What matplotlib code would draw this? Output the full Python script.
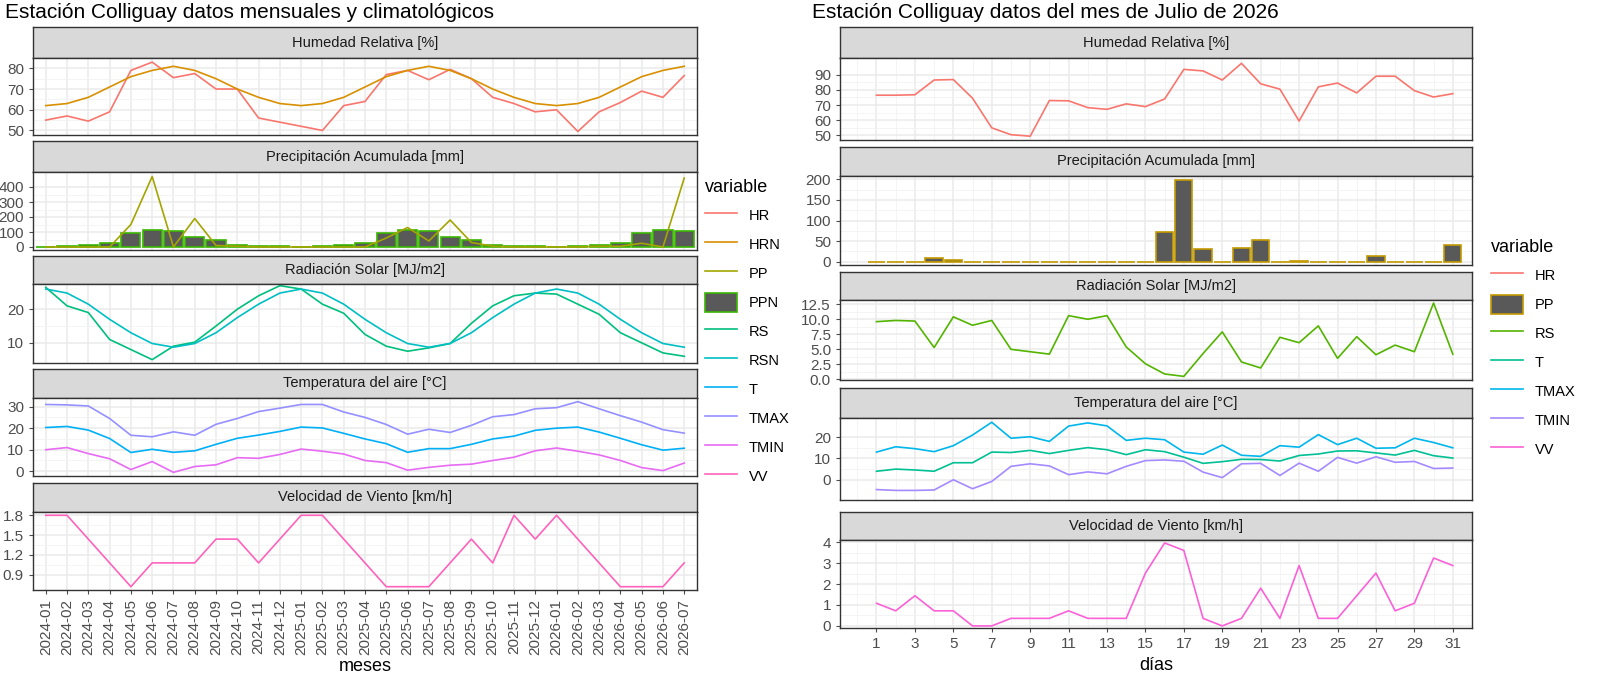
import matplotlib
matplotlib.use("Agg")
import matplotlib.pyplot as plt
from matplotlib.lines import Line2D
from matplotlib.patches import Patch
import numpy as np

plt.rcParams['font.family'] = ['Liberation Sans', 'DejaVu Sans']

months = ["2024-01","2024-02","2024-03","2024-04","2024-05","2024-06","2024-07","2024-08","2024-09","2024-10","2024-11","2024-12",
          "2025-01","2025-02","2025-03","2025-04","2025-05","2025-06","2025-07","2025-08","2025-09","2025-10","2025-11","2025-12",
          "2026-01","2026-02","2026-03","2026-04","2026-05","2026-06","2026-07"]
HR_m = [55,57,54.5,59,79,83,75.5,77.5,70,70,56,54,52,50,62,64,77,79,74.5,79.5,75,66,63,59,60,49.5,59,63.5,69,66,76.5]
HRN_m = [62,63,66,71,76,79,81,79,75,70,66,63,62,63,66,71,76,79,81,79,75,70,66,63,62,63,66,71,76,79,81]
PP_m = [0,0,0,0,150,470,0,190,10,5,0,0,0,0,0,0,60,130,40,180,30,5,0,0,0,0,5,5,25,0,460]
PPN_m = [0,5,15,25,95,115,105,65,45,15,10,5,0,5,15,25,95,115,105,65,45,15,10,5,0,5,15,25,95,115,105]
RS_m = [26.5,21,19,11,8,5,9,10.2,15,20,24,27,26,21.5,18.8,12.5,9,7.5,8.5,9.8,15.8,21,24,24.8,24.5,21.5,18.5,13,10,7,6]
RSN_m = [26,24.8,21.5,17,13,9.8,8.7,9.8,13,17.5,21.5,24.8,26,24.8,21.5,17,13,9.8,8.7,9.8,13,17.5,21.5,24.8,26,24.8,21.5,17,13,9.8,8.7]
TMAX_m = [31,30.8,30.3,24.5,16.7,16,18.3,16.7,21.8,24.5,27.7,29.3,31,31,27.5,25,21.7,17.2,19.5,18,21.3,25.3,26.3,29,29.5,32.3,29,25.8,22.8,19.3,17.7]
T_m = [20.3,20.8,19.1,15.2,8.7,10.2,8.8,9.5,12.5,15.3,16.8,18.5,20.5,20.1,17.6,15,12.8,8.8,10.5,10.5,12.5,15,16.3,19,20,20.5,18.2,15.3,12.3,9.8,10.7]
TMIN_m = [10,11,8.2,5.8,0.8,4.5,-0.5,2.2,3,6.3,6,7.8,10.3,9.3,8,5,4,0.5,1.8,2.8,3.3,5,6.5,9.5,10.8,9.3,7.6,5,1.7,0.3,3.8]
VV_m = [1.8,1.8,1.44,1.08,0.72,1.08,1.08,1.08,1.44,1.44,1.08,1.44,1.8,1.8,1.44,1.08,0.72,0.72,0.72,1.08,1.44,1.08,1.8,1.44,1.8,1.44,1.08,0.72,0.72,0.72,1.08]

days = list(range(1, 32))
HR_d = [76.5,76.5,76.8,86.5,86.8,74.5,55,50.5,49.5,73,72.8,68.3,67.2,70.8,69,74,93.5,92.5,86.5,97.5,84,80.5,59.5,82,84.5,78,89,89,79.5,75.3,77.5]
PP_d = [0,0,0,10,4,0,0,0,0,0,0,0,0,0,0,73,198,30,0,33,52,0,2,0,0,0,15,0,0,0,40]
RS_d = [9.6,9.8,9.7,5.3,10.4,9,9.8,5,4.6,4.2,10.6,10,10.6,5.4,2.6,0.9,0.5,4.3,7.9,2.9,1.9,7,6.1,8.9,3.5,7.1,4.1,5.7,4.6,12.7,4.2]
TMAX_d = [13,15.5,14.6,13.2,16,21,27,19.5,20.2,18,25.2,26.7,25.3,18.5,19.5,18.8,13,12,16.3,11.5,11,16,15.3,21.2,16.5,19.5,14.8,15,19.5,17.5,15]
T_d = [4,5,4.6,4,8,8,13,12.8,13.8,12.3,13.8,15.1,14.1,11.8,14.1,13.2,10.6,7.7,8.5,9.6,9.5,8.8,11.4,12.1,13.5,13.6,12.6,11.6,13.8,11.3,10.2]
TMIN_d = [-4.6,-5,-5,-4.8,0,-4.2,-0.8,6.3,7.5,6.5,2.4,3.7,2.8,6.3,9,9.3,8.7,3.6,1,7.5,7.7,2,7.8,4,10.5,7.8,10.8,8.2,8.6,5.3,5.5]
VV_d = [1.08,0.72,1.44,0.72,0.72,0,0,0.36,0.36,0.36,0.72,0.36,0.36,0.36,2.52,3.96,3.6,0.36,0,0.36,1.8,0.36,2.88,0.36,0.36,1.44,2.52,0.72,1.08,3.24,2.88]

titles = ["Humedad Relativa [%]", "Precipitación Acumulada [mm]", "Radiación Solar [MJ/m2]",
          "Temperatura del aire [°C]", "Velocidad de Viento [km/h]"]

cL = dict(HR="#F8766D", HRN="#D89000", PP="#A3A500", PPN="#39B600", RS="#00BF7D",
          RSN="#00BFC4", T="#00B0F6", TMAX="#9590FF", TMIN="#E76BF3", VV="#FF62BC")
cR = dict(HR="#F8766D", PP="#C49A00", RS="#53B400", T="#00C094", TMAX="#00B6EB",
          TMIN="#A58AFF", VV="#FB61D7")

W, H = 1600, 676
fig = plt.figure(figsize=(16, 6.76), dpi=100)
TICK = 11

def px_axes(x0, y0, x1, y1):
    return fig.add_axes([x0 / W, 1 - y1 / H, (x1 - x0) / W, (y1 - y0) / H])

def strip(x0, y0, x1, y1, text):
    a = px_axes(x0, y0, x1, y1)
    a.set_xticks([]); a.set_yticks([])
    a.set_facecolor("#D9D9D9")
    for s in a.spines.values():
        s.set_color("#333333"); s.set_linewidth(1.0)
    a.text(0.5, 0.5, text, ha="center", va="center", fontsize=10.5, color="#1A1A1A", transform=a.transAxes)

def style(a, xlim, yticks, ylim, minor_x, minor_y):
    a.set_xlim(*xlim); a.set_ylim(*ylim)
    a.set_yticks(yticks)
    a.set_yticks(minor_y, minor=True)
    a.set_xticks(minor_x, minor=True)
    a.grid(True, which="major", color="#EBEBEB", linewidth=1.1)
    a.grid(True, which="minor", color="#F2F2F2", linewidth=0.6)
    a.set_axisbelow(True)
    for s in a.spines.values():
        s.set_color("#333333"); s.set_linewidth(1.0)
    a.tick_params(axis="both", which="major", labelsize=TICK, colors="#4D4D4D", length=3, width=0.8)
    a.tick_params(axis="both", which="minor", length=0)

def mids(t):
    return [(t[i] + t[i+1]) / 2 for i in range(len(t) - 1)]

# ---------------- left ----------------
Lx0, Lx1 = 33, 697
lrows = [(27, 58, 135), (141, 172, 250), (256, 284, 363), (369, 398, 476), (483, 512, 590)]
xm = np.arange(len(months))
xlimL = (-0.6, len(months) - 0.4)
lspec = [
    ([50, 60, 70, 80], (47.8, 85)),
    ([0, 100, 200, 300, 400], (-20, 500)),
    ([10, 20], (4, 27.5)),
    ([0, 10, 20, 30], (-2.2, 34)),
    ([0.9, 1.2, 1.5, 1.8], (0.67, 1.85)),
]
for i, (sy0, sy1, py1) in enumerate(lrows):
    strip(Lx0, sy0, Lx1, sy1, titles[i])
    a = px_axes(Lx0, sy1, Lx1, py1)
    yt, yl = lspec[i]
    style(a, xlimL, yt, yl, [], mids(yt))
    a.set_xticks(xm)
    if i == 0:
        a.plot(xm, HR_m, color=cL["HR"], lw=1.2)
        a.plot(xm, HRN_m, color=cL["HRN"], lw=1.2)
    elif i == 1:
        a.bar(xm, PPN_m, width=0.9, color="#595959", edgecolor=cL["PPN"], linewidth=1.2)
        a.plot(xm, PP_m, color=cL["PP"], lw=1.2)
    elif i == 2:
        a.plot(xm, RS_m, color=cL["RS"], lw=1.2)
        a.plot(xm, RSN_m, color=cL["RSN"], lw=1.2)
    elif i == 3:
        a.plot(xm, TMAX_m, color=cL["TMAX"], lw=1.2)
        a.plot(xm, T_m, color=cL["T"], lw=1.2)
        a.plot(xm, TMIN_m, color=cL["TMIN"], lw=1.2)
    else:
        a.plot(xm, VV_m, color=cL["VV"], lw=1.2)
    if i < 4:
        a.set_xticklabels([])
        a.tick_params(axis="x", length=0)
    else:
        a.set_xticklabels(months, rotation=90, fontsize=TICK, color="#4D4D4D")
        a.set_xlabel("meses", fontsize=13, color="black", labelpad=2)

fig.text(5 / W, 1 - 12 / H, "Estación Colliguay datos mensuales y climatológicos", fontsize=15, va="center", ha="left")

lh = []
for k in ["HR", "HRN", "PP"]:
    lh.append(Line2D([], [], color=cL[k], lw=1.2))
lh.append(Patch(facecolor="#595959", edgecolor=cL["PPN"], linewidth=1.2))
for k in ["RS", "RSN", "T", "TMAX", "TMIN", "VV"]:
    lh.append(Line2D([], [], color=cL[k], lw=1.2))
fig.legend(lh, ["HR", "HRN", "PP", "PPN", "RS", "RSN", "T", "TMAX", "TMIN", "VV"],
           title="variable", loc="upper left", bbox_to_anchor=(692 / W, 1 - 166 / H),
           frameon=False, fontsize=10.5, title_fontsize=13, handlelength=2.2, handleheight=1.6,
           labelspacing=0.7, alignment="left")

# ---------------- right ----------------
Rx0, Rx1 = 840, 1472
rrows = [(27, 58, 140), (147, 176, 265), (272, 300, 380), (388, 418, 500), (512, 540, 628)]
xd = np.array(days)
xlimR = (-0.9, 32.0)
rspec = [
    ([50, 60, 70, 80, 90], (47, 101)),
    ([0, 50, 100, 150, 200], (-8, 208)),
    ([0, 2.5, 5, 7.5, 10, 12.5], (-0.1, 13.2)),
    ([0, 10, 20], (-9.5, 29)),
    ([0, 1, 2, 3, 4], (-0.1, 4.1)),
]
for i, (sy0, sy1, py1) in enumerate(rrows):
    strip(Rx0, sy0, Rx1, sy1, titles[i])
    a = px_axes(Rx0, sy1, Rx1, py1)
    yt, yl = rspec[i]
    style(a, xlimR, yt, yl, [x for x in range(0, 33, 2)], mids(yt))
    a.set_xticks(list(range(1, 32, 2)))
    if i == 0:
        a.plot(xd, HR_d, color=cR["HR"], lw=1.2)
    elif i == 1:
        a.bar(xd, PP_d, width=0.9, color="#595959", edgecolor=cR["PP"], linewidth=1.2)
    elif i == 2:
        a.plot(xd, RS_d, color=cR["RS"], lw=1.2)
    elif i == 3:
        a.plot(xd, TMAX_d, color=cR["TMAX"], lw=1.2)
        a.plot(xd, T_d, color=cR["T"], lw=1.2)
        a.plot(xd, TMIN_d, color=cR["TMIN"], lw=1.2)
    else:
        a.plot(xd, VV_d, color=cR["VV"], lw=1.2)
    if i < 4:
        a.set_xticklabels([])
        a.tick_params(axis="x", length=0)
    else:
        a.set_xticklabels([str(d) for d in range(1, 32, 2)], fontsize=TICK, color="#4D4D4D")
        a.set_xlabel("días", fontsize=13, color="black", labelpad=4)

fig.text(812 / W, 1 - 12 / H, "Estación Colliguay datos del mes de Julio de 2026", fontsize=15, va="center", ha="left")

rh = [Line2D([], [], color=cR["HR"], lw=1.2),
      Patch(facecolor="#595959", edgecolor=cR["PP"], linewidth=1.2)]
for k in ["RS", "T", "TMAX", "TMIN", "VV"]:
    rh.append(Line2D([], [], color=cR[k], lw=1.2))
fig.legend(rh, ["HR", "PP", "RS", "T", "TMAX", "TMIN", "VV"],
           title="variable", loc="upper left", bbox_to_anchor=(1478 / W, 1 - 226 / H),
           frameon=False, fontsize=10.5, title_fontsize=13, handlelength=2.2, handleheight=1.6,
           labelspacing=0.7, alignment="left")

fig.savefig("out.png", dpi=100, facecolor="white")
